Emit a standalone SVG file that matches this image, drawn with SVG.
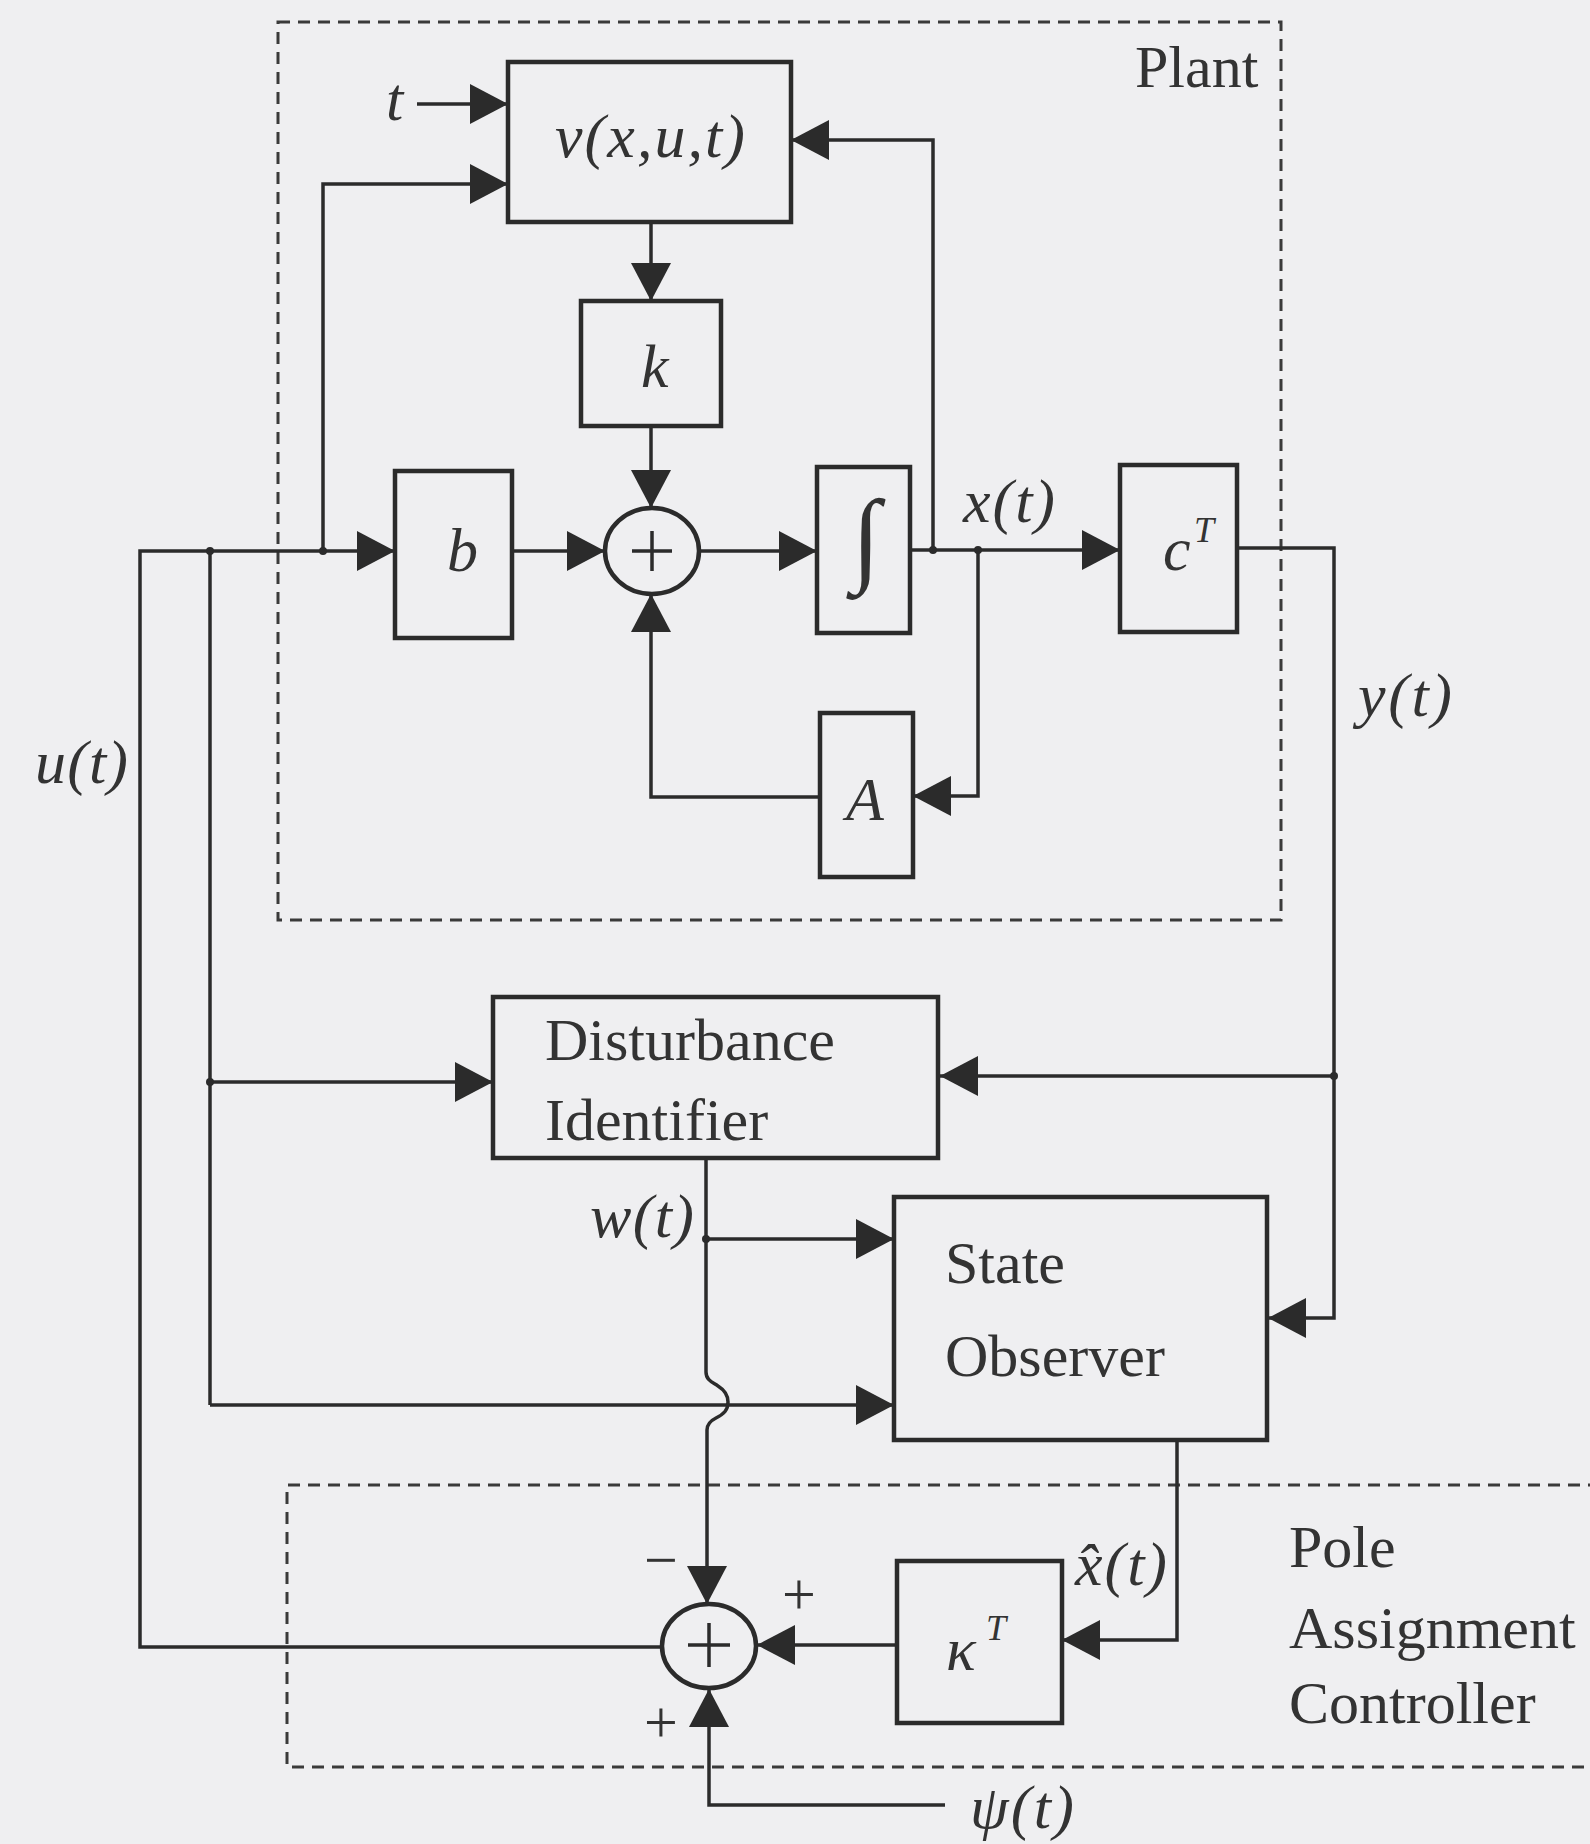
<svg xmlns="http://www.w3.org/2000/svg" width="1590" height="1844" viewBox="0 0 1590 1844">
<style>
.box{fill:none;stroke:#2b2b2b;stroke-width:4.5}
.ln{fill:none;stroke:#2b2b2b;stroke-width:3.5}
.arr{marker-end:url(#ah)}
.dash{fill:none;stroke:#3a3a3a;stroke-width:3;stroke-dasharray:12 8}
.t{font-family:"Liberation Serif","Times New Roman",serif;font-size:60px;fill:#333}
.m{font-family:"Liberation Serif","Times New Roman",serif;font-size:62px;font-style:italic;fill:#333}
.sup{font-family:"Liberation Serif","Times New Roman",serif;font-size:36px;font-style:italic;fill:#333}
.int{font-family:"Liberation Serif","Times New Roman",serif;font-size:104px;fill:#333}
.dot{fill:#2b2b2b}
</style>
<defs>
<marker id="ah" markerUnits="userSpaceOnUse" markerWidth="38" markerHeight="40" viewBox="0 0 38 40" refX="38" refY="20" orient="auto">
<path d="M0,0 L38,20 L0,40 z" fill="#2b2b2b"/>
</marker>
</defs>
<rect x="0" y="0" width="1590" height="1844" fill="#efeff1"/>

<g id="plant-frame">
<rect class="dash" x="278" y="22" width="1003" height="898"/>
<text class="t" x="1135" y="87">Plant</text>
</g>
<g id="controller-frame">
<path class="dash" d="M1600,1485 H287 V1767 H1600"/>
<text class="t" x="1289" y="1567">Pole</text>
<text class="t" x="1289" y="1648">Assignment</text>
<text class="t" x="1289" y="1723">Controller</text>
</g>

<g id="connectors">
<path class="ln arr" d="M417,104 H508"/>
<path class="ln arr" d="M323,551 V184 H508"/>
<path class="ln arr" d="M662,1647 H140 V551 H395"/>
<path class="ln arr" d="M512,551 H605"/>
<path class="ln arr" d="M651,222 V301"/>
<path class="ln arr" d="M651,426 V508"/>
<path class="ln arr" d="M699,551 H817"/>
<path class="ln arr" d="M910,550 H1120"/>
<path class="ln arr" d="M933,550 V140 H791"/>
<path class="ln arr" d="M978,550 V796 H913"/>
<path class="ln arr" d="M820,797 H651 V594"/>
<path class="ln arr" d="M1237,548 H1334 V1318 H1268"/>
<path class="ln arr" d="M1334,1076 H940"/>
<path class="ln" d="M210,551 V1405"/>
<path class="ln arr" d="M210,1082 H493"/>
<path class="ln arr" d="M210,1405 H894"/>
<path class="ln arr" d="M706,1158 V1372 C706,1380 712,1382 718,1386 C726,1391 728,1396 728,1402 C728,1410 724,1414 716,1418 C710,1421 707,1424 707,1430 V1604"/>
<path class="ln arr" d="M706,1239 H894"/>
<path class="ln arr" d="M1177,1440 V1640 H1062"/>
<path class="ln arr" d="M897,1645 H757"/>
<path class="ln arr" d="M945,1805 H709 V1689"/>
<circle class="dot" cx="323" cy="551" r="4"/>
<circle class="dot" cx="210" cy="551" r="4"/>
<circle class="dot" cx="933" cy="550" r="4"/>
<circle class="dot" cx="978" cy="550" r="4"/>
<circle class="dot" cx="1334" cy="1076" r="4"/>
<circle class="dot" cx="210" cy="1082" r="4"/>
<circle class="dot" cx="706" cy="1239" r="4"/>
</g>

<g id="labels">
<text class="m" x="386" y="120">t</text>
<text class="m" x="963" y="522" textLength="92" lengthAdjust="spacing">x(t)</text>
<text class="m" x="1358" y="716" textLength="94" lengthAdjust="spacing">y(t)</text>
<text class="m" x="35" y="783" textLength="93" lengthAdjust="spacing">u(t)</text>
<text class="m" x="590" y="1237" textLength="104" lengthAdjust="spacing">w(t)</text>
<text class="m" x="1075" y="1585" textLength="92" lengthAdjust="spacing">x̂(t)</text>
<text class="m" x="970" y="1828" textLength="104" lengthAdjust="spacing">ψ(t)</text>
<text class="t" x="661" y="1580" text-anchor="middle">−</text>
<text class="t" x="799" y="1614" text-anchor="middle">+</text>
<text class="t" x="661" y="1742" text-anchor="middle">+</text>
</g>

<g id="node-v">
<rect class="box" x="508" y="62" width="283" height="160"/>
<text class="m" x="555" y="157" textLength="190" lengthAdjust="spacing">v(x,u,t)</text>
</g>
<g id="node-k">
<rect class="box" x="581" y="301" width="140" height="125"/>
<text class="m" x="641" y="387">k</text>
</g>
<g id="node-b">
<rect class="box" x="395" y="471" width="117" height="167"/>
<text class="m" x="447" y="571">b</text>
</g>
<g id="node-sum1">
<ellipse class="box" cx="652" cy="551" rx="47" ry="43"/>
<path class="ln" d="M632,551 H672 M652,531 V571" stroke-width="2.5"/>
</g>
<g id="node-int">
<rect class="box" x="817" y="467" width="93" height="166"/>
<text class="int" x="866" y="572" text-anchor="middle">∫</text>
</g>
<g id="node-cT">
<rect class="box" x="1120" y="465" width="117" height="167"/>
<text class="m" x="1163" y="570">c</text>
<text class="sup" x="1194" y="542">T</text>
</g>
<g id="node-A">
<rect class="box" x="820" y="713" width="93" height="164"/>
<text class="m" x="846" y="820">A</text>
</g>
<g id="node-di">
<rect class="box" x="493" y="997" width="445" height="161"/>
<text class="t" x="545" y="1060">Disturbance</text>
<text class="t" x="545" y="1140">Identifier</text>
</g>
<g id="node-so">
<rect class="box" x="894" y="1197" width="373" height="243"/>
<text class="t" x="945" y="1283">State</text>
<text class="t" x="945" y="1376">Observer</text>
</g>
<g id="node-kappa">
<rect class="box" x="897" y="1561" width="165" height="162"/>
<text class="m" x="946" y="1670">κ</text>
<text class="sup" x="986" y="1640">T</text>
</g>
<g id="node-sum2">
<ellipse class="box" cx="709" cy="1646" rx="47" ry="42"/>
<path class="ln" d="M688,1645 H730 M709,1623 V1667" stroke-width="2.5"/>
</g>
</svg>
